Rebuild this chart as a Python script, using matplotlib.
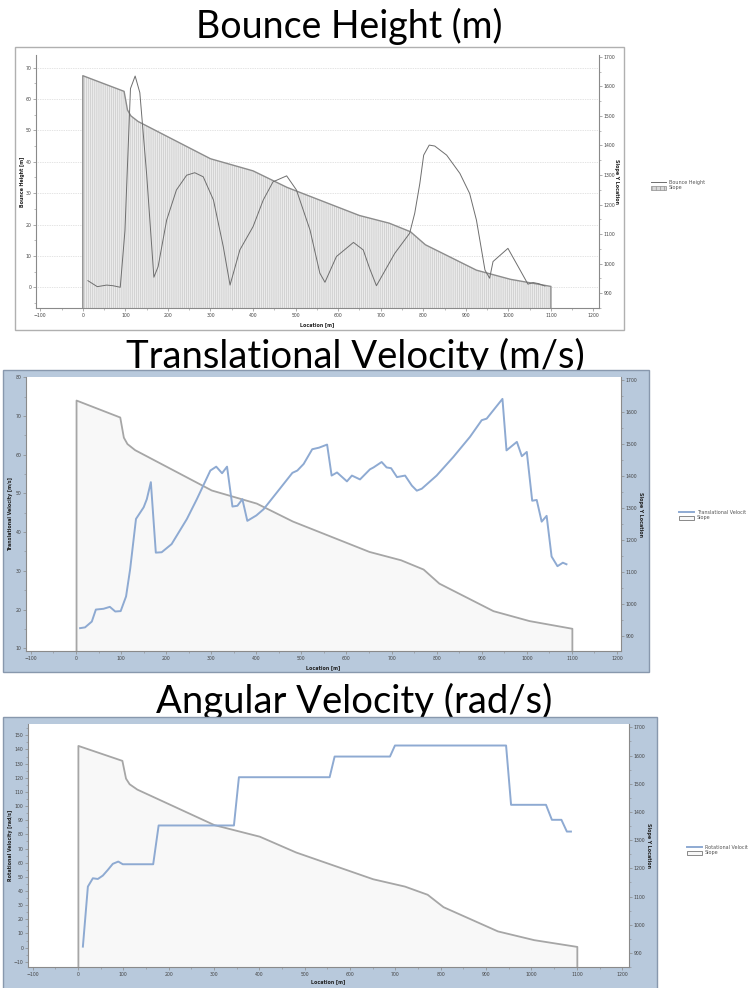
import matplotlib
matplotlib.use("Agg")
import matplotlib.pyplot as plt
from matplotlib.patches import Rectangle
from matplotlib.transforms import blended_transform_factory
from matplotlib.ticker import MultipleLocator

# ---------------- data ----------------
slope_x = [0, 97, 105, 113, 130, 300, 400, 480, 650, 720, 770, 805, 925, 1005, 1100]
slope_y = [1636, 1583, 1520, 1500, 1481, 1355, 1314, 1258, 1163, 1137, 1108, 1064, 978, 947, 923]

bounce_x = [12, 34, 56, 71, 88, 99, 112, 123, 134, 150, 167, 177, 197, 220, 244, 263, 283,
            307, 330, 346, 369, 400, 424, 447, 479, 502, 534, 557, 569, 596, 636, 659, 674,
            690, 733, 768, 780, 792, 801, 814, 827, 855, 886, 909, 925, 945, 956, 964, 999,
            1023, 1046, 1058, 1070, 1086]
bounce_y = [2.1, 0.2, 0.7, 0.5, 0.0, 18.0, 63.3, 67.3, 62.0, 36.0, 3.2, 6.6, 21.4, 31.0, 35.7,
            36.5, 35.2, 27.8, 13.0, 0.7, 11.9, 19.3, 27.8, 33.6, 35.5, 31.0, 18.2, 4.5, 1.6, 9.8,
            14.3, 11.9, 6.0, 0.5, 10.8, 17.2, 23.6, 33.1, 42.1, 45.3, 45.0, 42.1, 36.3, 29.9,
            21.4, 5.5, 2.9, 8.2, 12.4, 6.6, 1.0, 1.5, 1.2, 0.4]

trans_x = [9, 20, 35, 44, 61, 75, 87, 99, 111, 120, 133, 150, 157, 166, 177, 190, 212, 246,
           268, 298, 311, 324, 335, 347, 358, 369, 380, 400, 416, 446, 480, 491, 505, 524, 539,
           557, 567, 579, 601, 612, 630, 652, 660, 678, 689, 699, 712, 730, 745, 756, 767, 800,
           837, 874, 900, 911, 946, 955, 978, 989, 1000, 1012, 1022, 1033, 1044, 1055, 1068,
           1080, 1088]
trans_y = [15.2, 15.4, 16.9, 20.0, 20.2, 20.7, 19.5, 19.6, 23.4, 30.4, 43.4, 46.4, 48.5, 52.9,
           34.7, 34.8, 36.9, 43.4, 48.5, 55.9, 56.9, 55.2, 56.9, 46.6, 46.8, 48.5, 42.9, 44.3,
           45.9, 50.3, 55.3, 55.9, 57.6, 61.4, 61.8, 62.6, 54.6, 55.4, 53.1, 54.6, 53.6, 56.2,
           56.7, 58.1, 56.7, 56.5, 54.2, 54.6, 52.0, 50.7, 51.2, 54.6, 59.4, 64.6, 68.9, 69.3,
           74.4, 61.1, 63.3, 59.6, 60.7, 48.1, 48.3, 42.7, 44.2, 33.7, 31.2, 32.1, 31.7]

rot_x = [11, 22, 33, 44, 55, 66, 77, 89, 99, 166, 178, 344, 355, 555, 566, 688, 699, 944, 955,
         1032, 1045, 1066, 1078, 1087]
rot_y = [0.7, 43.1, 49.0, 48.5, 50.9, 54.9, 59.2, 60.8, 58.9, 58.9, 86.3, 86.3, 120.4, 120.4,
         135.0, 135.0, 142.8, 142.8, 100.9, 100.9, 90.3, 90.3, 82.0, 82.0]

titles = ["Bounce Height (m)", "Translational Velocity (m/s)", "Angular Velocity (rad/s)"]
left_labels = ["Bounce Height [m]", "Translational Velocity [m/s]", "Rotational Velocity [rad/s]"]
# legend entries as they appear (clipped by the slide edge in the original)
series_names = ["Bounce Height", "Translational Velocit", "Rotational Velocit"]
right_label = "Slope Y Location"
x_label = "Location [m]"

# ---------------- layout helpers ----------------
W, H = 748, 988
fig = plt.figure(figsize=(W / 100, H / 100), dpi=100)
fig.patch.set_facecolor("white")


def frac(l, t, r, b):
    return [l / W, 1 - b / H, (r - l) / W, (b - t) / H]


def panel(l, t, r, b, fc, ec, z):
    rect = Rectangle((l / W, 1 - b / H), (r - l) / W, (b - t) / H, transform=fig.transFigure,
                     facecolor=fc, edgecolor=ec, linewidth=1.0, zorder=z)
    fig.add_artist(rect)


TITLE_FONT = ["Lato", "DejaVu Sans"]
AX_GRAY = "#8a8a8a"
LINE_BLUE = "#8eaad2"
SLOPE_EDGE = "#a6a6a6"


def title(text, cx, base, size):
    fig.text(cx / W, 1 - base / H, text, ha="center", va="baseline", fontsize=size,
             family=TITLE_FONT, color="black", zorder=1)


def style_axes(ax, ax2, xlim, ylim, ylim2, ystep):
    for a in (ax, ax2):
        a.spines["top"].set_visible(False)
        for s in ("left", "right", "bottom"):
            a.spines[s].set_color(AX_GRAY)
            a.spines[s].set_linewidth(0.8)
        a.tick_params(which="major", direction="out", length=2.2, width=0.5, color=AX_GRAY,
                      labelsize=3.3, pad=1.2, labelcolor="#444444")
        a.tick_params(which="minor", direction="out", length=1.2, width=0.4, color=AX_GRAY)
    ax.set_xlim(*xlim)
    ax.set_ylim(*ylim)
    ax2.set_ylim(*ylim2)
    ax.xaxis.set_major_locator(MultipleLocator(100))
    ax.xaxis.set_minor_locator(MultipleLocator(50))
    ax.yaxis.set_major_locator(MultipleLocator(ystep))
    ax.yaxis.set_minor_locator(MultipleLocator(ystep / 2))
    ax2.yaxis.set_major_locator(MultipleLocator(100))
    ax2.yaxis.set_minor_locator(MultipleLocator(50))
    ax.spines["right"].set_visible(False)
    ax2.spines["left"].set_visible(False)
    ax2.spines["bottom"].set_visible(False)


def chart(box, xlim, ylim, ylim2, ystep, xs, ys, idx, hatched, zbase,
          ylab_px, y2lab_px, xlab_px, legend_px):
    l, t, r, b = box
    ax = fig.add_axes(frac(*box))
    ax2 = ax.twinx()
    ax2.set_zorder(zbase)
    ax.set_zorder(zbase + 1)
    ax.patch.set_visible(False)
    ax2.patch.set_visible(True)
    ax2.patch.set_facecolor("white")

    style_axes(ax, ax2, xlim, ylim, ylim2, ystep)

    if hatched:
        # grid (drawn beneath the slope area)
        ax2.grid(axis="x", which="major", linestyle=(0, (1, 1.5)), color="#c8c8c8", linewidth=0.5)
        tr = blended_transform_factory(ax2.transAxes, ax.transData)
        for v in ax.get_yticks():
            if ylim[0] <= v <= ylim[1]:
                ax2.plot([0, 1], [v, v], transform=tr, linestyle=(0, (1, 1.5)),
                         color="#c8c8c8", linewidth=0.5, zorder=0.5)
        plt.rcParams["hatch.linewidth"] = 0.45
        ax2.fill_between(slope_x, slope_y, 0, facecolor="#ebebeb", edgecolor="#c6c6c6",
                         hatch="||||||||", linewidth=0, zorder=1)
        ax2.fill_between(slope_x, slope_y, 0, facecolor="none", edgecolor="#8c8c8c",
                         linewidth=1.0, zorder=2)
        legend_slope = Rectangle((0, 0), 1, 1, facecolor="#d8d8d8", edgecolor="#8c8c8c",
                                 hatch="||||", linewidth=0.5)
        line, = ax.plot(xs, ys, color="#6e6e6e", linewidth=0.7, label=series_names[idx])
    else:
        ax2.fill_between(slope_x, slope_y, 0, facecolor="#f8f8f8", edgecolor=SLOPE_EDGE,
                         linewidth=1.3, zorder=1)
        legend_slope = Rectangle((0, 0), 1, 1, facecolor="#f8f8f8", edgecolor="#777777",
                                 linewidth=0.6)
        line, = ax.plot(xs, ys, color=LINE_BLUE, linewidth=1.4, label=series_names[idx])

    # axis labels
    ax.set_ylabel(left_labels[idx], fontsize=3.4, fontweight="bold", color="#222222")
    ax.yaxis.set_label_coords((ylab_px - l) / (r - l), 0.5)
    ax2.set_ylabel(right_label, fontsize=3.4, fontweight="bold", color="#222222",
                   rotation=270, va="center")
    ax2.yaxis.set_label_coords((y2lab_px - l) / (r - l), 0.5)
    ax.set_xlabel(x_label, fontsize=3.4, fontweight="bold", color="#222222")
    ax.xaxis.set_label_coords(0.5, -(xlab_px - b) / (b - t))

    # legend outside the panel
    lx, ly = legend_px
    leg = ax.legend([line, legend_slope], [series_names[idx], "Slope"],
                    loc="center left",
                    bbox_to_anchor=((lx - l) / (r - l), 1 - (ly - t) / (b - t)),
                    frameon=False, fontsize=3.5, handlelength=3.0, handleheight=0.9,
                    handletextpad=0.7, labelspacing=0.15, borderpad=0, borderaxespad=0)
    for txt in leg.get_texts():
        txt.set_color("#555555")
    return ax, ax2


# ---------------- panels ----------------
panel(15, 47, 624, 330, "white", "#b0b0b0", 2)
panel(3, 370, 649, 672, "#b8c9dc", "#8898ad", 2)
panel(3, 717, 657, 995, "#b8c9dc", "#8898ad", 2)

title(titles[0], 349, 38, 27)
title(titles[1], 355, 368, 27.5)
title(titles[2], 354, 713, 27.5)

chart((36, 55, 599, 308), (-110, 1213), (-6.6, 74.0), (850, 1706), 10, bounce_x, bounce_y, 0,
      True, 10, 25, 616, 322, (651, 185))
chart((26, 377, 621, 651), (-111, 1209), (9.3, 80.05), (852, 1708), 10, trans_x, trans_y, 1,
      False, 20, 13, 640, 665, (679, 515))
chart((28, 724, 629, 967), (-110, 1215), (-13.7, 158), (850, 1712), 10, rot_x, rot_y, 2,
      False, 30, 13, 648, 979, (687, 850))

fig.savefig("out.png", dpi=100)
